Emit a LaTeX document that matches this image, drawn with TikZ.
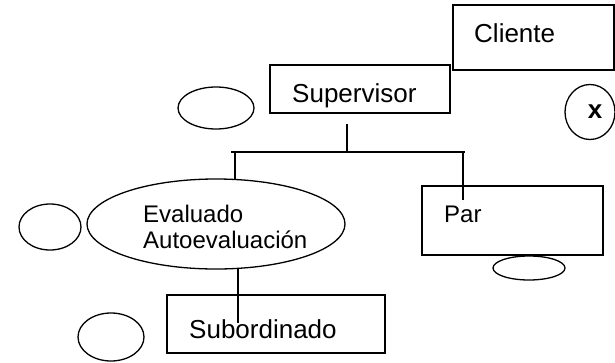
\documentclass[tikz,border=0pt]{standalone}
\usepackage{fontspec}
\setmainfont{Liberation Sans}
\usetikzlibrary{shapes.geometric}
\begin{document}
\begin{tikzpicture}[x=1pt,y=-1pt,
  box/.style={draw,line width=1.3pt,minimum width=#1,inner sep=0pt},
  oval/.style={draw,line width=1.3pt,ellipse,inner sep=0pt},
  lbl/.style={anchor=base west,inner sep=0pt,font=\fontsize{26}{30}\selectfont},
  slbl/.style={anchor=base west,inner sep=0pt,font=\fontsize{24}{28}\selectfont},
  conn/.style={line width=1.3pt}]
\useasboundingbox (0,0) rectangle (615,362);
% boxes
\node[box=161pt,minimum height=65pt] (cli) at (533.5,37.5) {};
\node[box=180pt,minimum height=48pt] (sup) at (360,89) {};
\node[box=181pt,minimum height=69pt] (par) at (512.5,220.5) {};
\node[box=218pt,minimum height=58pt] (sub) at (276,324) {};
% ellipses
\node[oval,minimum width=76pt,minimum height=42pt] (e1) at (216,108) {};
\node[oval,minimum width=50pt,minimum height=55pt] (ex) at (590,112) {};
\node[oval,minimum width=258pt,minimum height=90pt] (ev) at (216,224) {};
\node[oval,minimum width=62pt,minimum height=46pt] (e2) at (50,227) {};
\node[oval,minimum width=66pt,minimum height=48pt] (e3) at (111,337) {};
\node[oval,minimum width=72pt,minimum height=24pt] (e4) at (529,268) {};
% texts
\node[lbl] (tcli) at (474,42) {Cliente};
\node[lbl] (tsup) at (292,102) {Supervisor};
\node[anchor=base,inner sep=0pt,font=\fontsize{26}{30}\selectfont\bfseries] (tx) at (595,118) {x};
\node[slbl] (tev1) at (143,222) {Evaluado};
\node[slbl] (tev2) at (143,248) {Autoevaluación};
\node[slbl] (tpar) at (444,222) {Par};
\node[lbl] (tsub) at (189,338) {Subordinado};
% connectors
\coordinate (s0) at (347,124);
\coordinate (s1) at (347,152);
\coordinate (hl) at (231,152);
\coordinate (hr) at (465,152);
\coordinate (l0) at (235,152);
\coordinate (l1) at (235,180);
\coordinate (r0) at (463,152);
\coordinate (r1) at (463,200);
\coordinate (b0) at (238,269);
\coordinate (b1) at (238,323);
\draw[conn] (s0) -- (s1);
\draw[conn] (hl) -- (hr);
\draw[conn] (l0) -- (l1);
\draw[conn] (r0) -- (r1);
\draw[conn] (b0) -- (b1);
\end{tikzpicture}
\end{document}
